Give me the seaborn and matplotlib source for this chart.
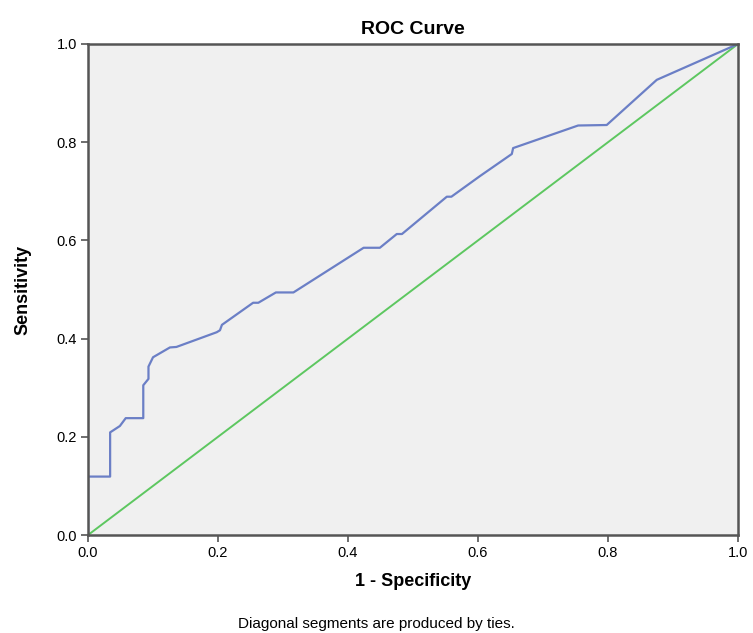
import numpy as np
import pandas as pd
import matplotlib
matplotlib.use("Agg")
import matplotlib.pyplot as plt
import seaborn as sns

# ROC curve points (1 - specificity, sensitivity)
fpr = [0.0, 0.0, 0.034, 0.034, 0.049, 0.058, 0.085, 0.085, 0.093, 0.093, 0.100,
       0.126, 0.136, 0.198, 0.203, 0.206, 0.254, 0.262, 0.289, 0.316, 0.424,
       0.449, 0.475, 0.483, 0.552, 0.559, 0.603, 0.652, 0.654, 0.754, 0.798,
       0.875, 1.0]
tpr = [0.0, 0.119, 0.119, 0.209, 0.222, 0.238, 0.238, 0.305, 0.318, 0.343, 0.362,
       0.382, 0.383, 0.413, 0.417, 0.428, 0.473, 0.473, 0.494, 0.494, 0.585,
       0.585, 0.613, 0.613, 0.689, 0.689, 0.731, 0.776, 0.788, 0.834, 0.835,
       0.927, 1.0]
ref_line = [0.0, 1.0]
ticks = [0.0, 0.2, 0.4, 0.6, 0.8, 1.0]

sns.set_style("ticks", {"axes.facecolor": "#f0f0f0", "axes.edgecolor": "#555555"})
plt.rcParams["font.family"] = ["Liberation Sans", "DejaVu Sans"]

df = pd.DataFrame({"fpr": fpr, "tpr": tpr})

fig = plt.figure(figsize=(7.53, 6.33), dpi=100)
ax = fig.add_axes([0.1169, 0.1548, 0.8632, 0.7757])

sns.lineplot(x=ref_line, y=ref_line, color="#5dc760", linewidth=1.4, ax=ax)
sns.lineplot(data=df, x="fpr", y="tpr", sort=False, estimator=None,
             color="#6b7fc6", linewidth=1.6, ax=ax)

ax.set_xlim(0, 1)
ax.set_ylim(0, 1)
ax.set_xticks(ticks)
ax.set_yticks(ticks)
ax.set_xticklabels([f"{t:.1f}" for t in ticks], fontsize=10.5, color="black")
ax.set_yticklabels([f"{t:.1f}" for t in ticks], fontsize=10.5, color="black")
ax.tick_params(direction="out", length=5, width=1.2, color="#555555", pad=3)
for s in ax.spines.values():
    s.set_linewidth(1.8)
    s.set_visible(True)

ax.set_title("ROC Curve", fontsize=14, fontweight="bold", pad=7, color="black")
ax.set_xlabel("1 - Specificity", fontsize=13, fontweight="bold", labelpad=9,
              color="black")
ax.set_ylabel("Sensitivity", fontsize=13, fontweight="bold", labelpad=18,
              color="black")

fig.text(0.5, 0.008, "Diagonal segments are produced by ties.", ha="center",
         fontsize=11, color="black")

fig.savefig("out.png", dpi=100, facecolor="white")
